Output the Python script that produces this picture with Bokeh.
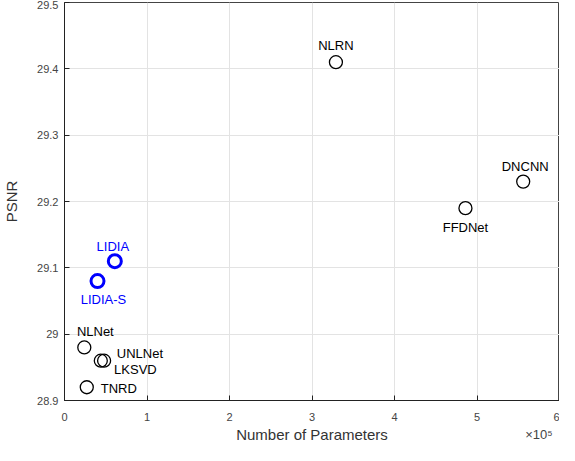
from bokeh.plotting import figure
from bokeh.models import ColumnDataSource, FixedTicker, CustomJSTickFormatter, Range1d, LinearAxis
from bokeh.core.properties import value
from bokeh.embed import file_html
from bokeh.resources import INLINE

# data
methods = ["NLRN", "DNCNN", "FFDNet", "LIDIA", "LIDIA-S", "NLNet", "UNLNet", "LKSVD", "TNRD"]
params_e5 = [3.29, 5.56, 4.86, 0.61, 0.40, 0.24, 0.44, 0.48, 0.27]
psnr = [29.41, 29.23, 29.19, 29.11, 29.08, 28.98, 28.96, 28.96, 28.92]
x_ticks = [0, 1, 2, 3, 4, 5, 6]
y_ticks = [28.9, 29.0, 29.1, 29.2, 29.3, 29.4, 29.5]
y_tick_labels = ["28.9", "29", "29.1", "29.2", "29.3", "29.4", "29.5"]
x_scale_text = "\u00d710\u2075"

# styles
is_ours = [False, False, False, True, True, False, False, False, False]
colors = ["#0000ff" if o else "#000000" for o in is_ours]
widths = [3.0 if o else 1.3 for o in is_ours]
label_dx = [0, 2, 0, -2, 6, 11, 16, 10, 14]
label_dy = [-17, -15, 19, -15, 18, -16, -7, 9, 1]
label_align = ["center", "center", "center", "center", "center", "center", "left", "left", "left"]

FONT = "Liberation Sans"

p = figure(width=559, height=445, output_backend="svg", toolbar_location=None,
           x_range=Range1d(0, 6), y_range=Range1d(28.9, 29.5),
           min_border_top=2, min_border_right=0, min_border_left=40, min_border_bottom=0)

src = ColumnDataSource(dict(x=params_e5, y=psnr, name=methods, color=colors, lw=widths,
                            dx=label_dx, dy=label_dy, align=label_align))

p.scatter("x", "y", source=src, marker="circle", size=13, fill_color=None,
          line_color="color", line_width="lw")
p.text("x", "y", text="name", source=src, x_offset="dx", y_offset="dy",
       text_align="align", text_baseline="middle", text_color="color",
       text_font=value(FONT), text_font_size="13px")

for ax in (p.xaxis[0], p.yaxis[0]):
    ax.major_tick_in = 5
    ax.major_tick_out = 0
    ax.minor_tick_line_color = None
    ax.axis_line_color = "#222222"
    ax.major_tick_line_color = "#222222"
    ax.major_label_text_font = FONT
    ax.major_label_text_font_size = "11px"
    ax.major_label_text_color = "#444444"
    ax.axis_label_text_font = FONT
    ax.axis_label_text_font_size = "15px"
    ax.axis_label_text_font_style = "normal"
    ax.axis_label_text_color = "#333333"

p.xaxis.ticker = FixedTicker(ticks=x_ticks)
p.yaxis.ticker = FixedTicker(ticks=y_ticks)
p.yaxis.formatter = CustomJSTickFormatter(args=dict(vals=y_ticks, labs=y_tick_labels), code="""
    for (let i = 0; i < vals.length; i++) { if (Math.abs(vals[i] - tick) < 1e-6) return labs[i]; }
    return '';
""")
p.xaxis.axis_label = "Number of Parameters"
p.yaxis.axis_label = "PSNR"
p.xaxis.major_label_standoff = 12
p.xaxis.axis_label_standoff = 2
p.yaxis.major_label_standoff = 6
p.yaxis.axis_label_standoff = 14

# exponent note, drawn as a lone tick label of a second, bare bottom axis
p.extra_x_ranges = {"note": Range1d(0, 6)}
note_axis = LinearAxis(x_range_name="note", ticker=FixedTicker(ticks=[5.75]),
                       major_label_overrides={5.75: x_scale_text},
                       axis_line_color=None, major_tick_line_color=None,
                       minor_tick_line_color=None, major_tick_in=0, major_tick_out=0,
                       major_label_standoff=-19, major_label_text_font=FONT,
                       major_label_text_font_size="13px", major_label_text_color="#444444")
p.add_layout(note_axis, "below")

p.xgrid.ticker = FixedTicker(ticks=x_ticks)
p.ygrid.ticker = FixedTicker(ticks=y_ticks)
p.grid.grid_line_color = "#e3e3e3"
p.grid.grid_line_width = 1

p.outline_line_color = "#444444"
p.outline_line_width = 1
p.outline_line_alpha = 1

open("out.html", "w").write(file_html(p, INLINE))
